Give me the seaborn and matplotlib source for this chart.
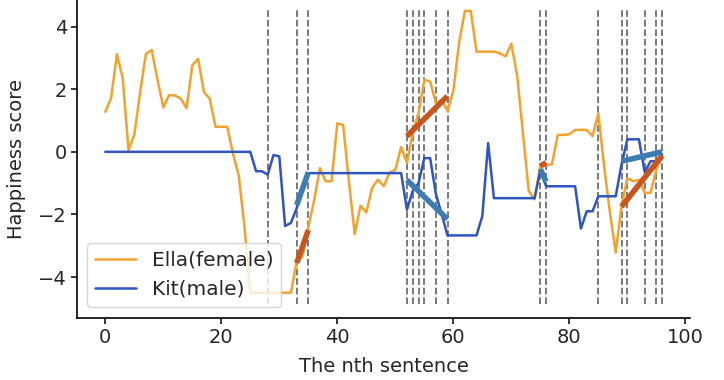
import numpy as np
import pandas as pd
import matplotlib
matplotlib.use("Agg")
import matplotlib.pyplot as plt
import seaborn as sns

# happiness score per sentence
ella = [
    1.28, 1.72, 3.12, 2.36, 0.05, 0.55, 1.9, 3.13, 3.25, 2.3,
    1.42, 1.81, 1.8, 1.7, 1.39, 2.76, 2.97, 1.91, 1.7, 0.8,
    0.8, 0.8, -0.05, -0.75, -2.4, -4.5, -4.5, -4.5, -4.5, -4.5,
    -4.5, -4.5, -4.5, -3.5, -3.35, -2.4, -1.55, -0.52, -0.94, -0.94,
    0.91, 0.86, -0.95, -2.63, -1.72, -1.94, -1.15, -0.89, -1.1, -0.67,
    -0.57, 0.15, -0.35, 0.6, 1.25, 2.3, 2.25, 1.55, 1.65, 1.3,
    1.95, 3.5, 4.5, 4.5, 3.2, 3.2, 3.2, 3.2, 3.15, 3.05,
    3.45, 2.45, 0.6, -1.25, -1.52, -0.45, -0.42, -0.4, 0.54, 0.54,
    0.56, 0.7, 0.7, 0.7, 0.5, 1.23, -0.47, -1.94, -3.22, -1.74,
    -0.84, -0.94, -0.9, -1.31, -1.31, -0.57, -0.15,
]
kit = [
    0.0, 0.0, 0.0, 0.0, 0.0, 0.0, 0.0, 0.0, 0.0, 0.0,
    0.0, 0.0, 0.0, 0.0, 0.0, 0.0, 0.0, 0.0, 0.0, 0.0,
    0.0, 0.0, 0.0, 0.0, 0.0, 0.0, -0.62, -0.62, -0.73, -0.1,
    -0.15, -2.37, -2.27, -1.8, -1.2, -0.68, -0.68, -0.68, -0.68, -0.68,
    -0.68, -0.68, -0.68, -0.68, -0.68, -0.68, -0.68, -0.68, -0.68, -0.68,
    -0.68, -0.68, -1.85, -1.25, -1.0, -0.2, -0.2, -1.35, -2.0, -2.67,
    -2.67, -2.67, -2.67, -2.67, -2.67, -2.05, 0.28, -1.48, -1.48, -1.48,
    -1.48, -1.48, -1.48, -1.48, -1.48, -0.6, -1.1, -1.1, -1.1, -1.1,
    -1.1, -1.1, -2.45, -1.9, -1.9, -1.42, -1.42, -1.42, -1.42, -0.4,
    0.4, 0.4, 0.4, -0.65, -0.3, -0.3, -0.1,
]
sentence = list(range(len(ella)))

# sentence indices marked with dashed lines
marks = [28, 33, 35, 52, 53, 54, 55, 57, 59, 75, 76, 85, 89, 90, 93, 95, 96]

# trend segments (start, end) and their end values
trend_x = [(33, 35), (52, 59), (75, 76), (89, 96)]
ella_trend = [(-3.55, -2.5), (0.5, 1.78), (-0.45, -0.35), (-1.75, -0.12)]
kit_trend = [(-1.7, -0.65), (-0.9, -2.15), (-0.55, -0.95), (-0.3, 0.0)]

sns.set_style("ticks")
plt.rcParams["font.family"] = ["DejaVu Sans"]

df = pd.DataFrame({"sentence": sentence, "ella": ella, "kit": kit})

fig = plt.figure(figsize=(7.24, 3.8), dpi=100)
ax = fig.add_axes([0.107, 0.163, 0.846, 0.837])

ax.vlines(marks, -4.85, 4.55, colors="#707070", linestyles="--", linewidth=1.3, zorder=1)

sns.lineplot(data=df, x="sentence", y="ella", color="#F2A22E", linewidth=1.8,
             label="Ella(female)", ax=ax, zorder=2)
sns.lineplot(data=df, x="sentence", y="kit", color="#2F55C0", linewidth=1.8,
             label="Kit(male)", ax=ax, zorder=2)

for (x0, x1), (e0, e1), (k0, k1) in zip(trend_x, ella_trend, kit_trend):
    ax.plot([x0, x1], [e0, e1], color="#C8561E", linewidth=4, solid_capstyle="butt", zorder=3)
    ax.plot([x0, x1], [k0, k1], color="#3D7CB3", linewidth=4, solid_capstyle="butt", zorder=3)

ax.set_xlim(-4.8, 100.8)
ax.set_ylim(-5.31, 4.85)
ax.set_xticks([0, 20, 40, 60, 80, 100])
ax.set_yticks([-4, -2, 0, 2, 4])
ax.set_xlabel("The nth sentence", fontsize=14, labelpad=7)
ax.set_ylabel("Happiness score", fontsize=14, labelpad=9)
ax.tick_params(labelsize=14, length=4, width=1.1, color="black")
for s in ("left", "bottom"):
    ax.spines[s].set_linewidth(1.2)
    ax.spines[s].set_color("black")
sns.despine(ax=ax)

ax.legend(loc="lower left", fontsize=14.5, frameon=True, framealpha=0.8,
          edgecolor="#cccccc", fancybox=True, handlelength=2.0,
          borderaxespad=0, bbox_to_anchor=(0.016, 0.035))

fig.savefig("out.png", dpi=100)
